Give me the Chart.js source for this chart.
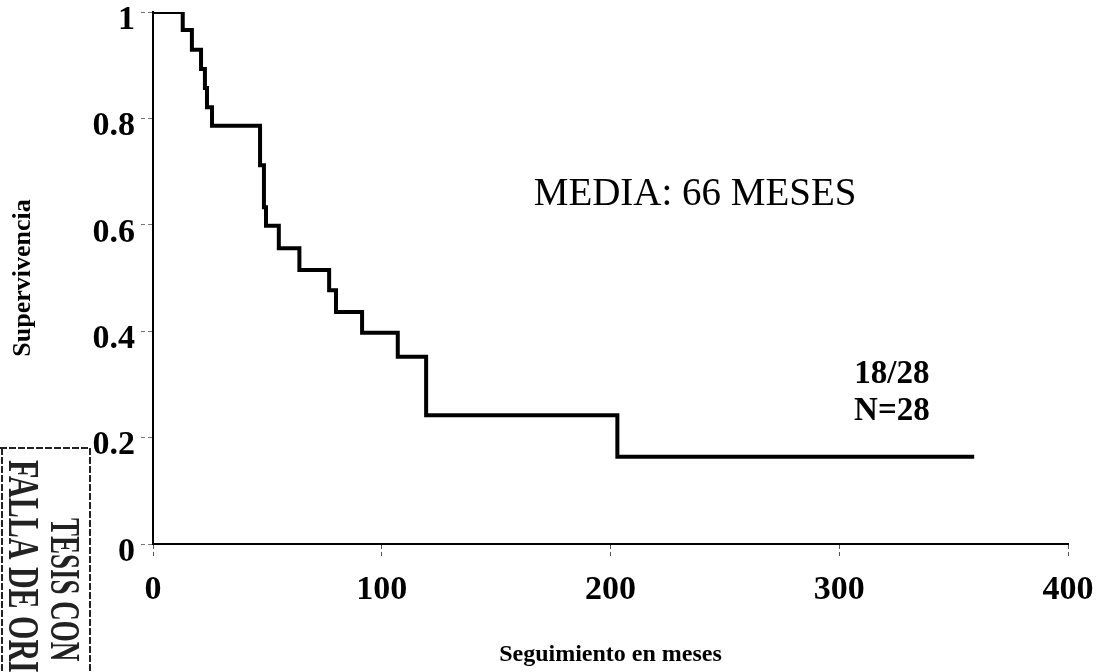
<!DOCTYPE html>
<html>
<head>
<meta charset="utf-8">
<script src="https://cdn.jsdelivr.net/npm/chart.js@4.4.1/dist/chart.umd.min.js"></script>
<style>
  html, body { margin: 0; padding: 0; background: #fff; }
  #wrap { width: 1097px; height: 672px; }
</style>
</head>
<body>
<div id="wrap"><canvas id="kmChart"></canvas></div>
<script>
// Kaplan-Meier, supervivencia global (N=28)
const months = [0, 13, 17, 21, 22.7, 23.6, 25.8, 46.8, 48.5, 49.4, 55, 64, 77, 80, 91.4, 107, 119.4, 203, 359];
const survival = [1, 0.966, 0.929, 0.893, 0.857, 0.821, 0.786, 0.712, 0.633, 0.598, 0.556, 0.515, 0.477, 0.436, 0.397, 0.352, 0.242, 0.164, 0.164];
const xTickLabels = ['0', '100', '200', '300', '400'];
const yTickLabels = ['0', '0.2', '0.4', '0.6', '0.8', '1'];
const notes = ['MEDIA: 66 MESES', '18/28', 'N=28'];
const stamp = ['TESIS CON', 'FALLA DE ORIGEN'];

const serif = '"Liberation Serif", "Times New Roman", serif';

// text notes on the plot + the scanned stamp bottom-left
const notesPlugin = {
  id: 'notes',
  afterDraw(chart) {
    const { ctx, scales: { x, y } } = chart;
    ctx.save();
    ctx.fillStyle = '#000';
    ctx.textAlign = 'center';
    ctx.textBaseline = 'middle';
    ctx.font = '39px ' + serif;
    ctx.fillText(notes[0], x.getPixelForValue(237), y.getPixelForValue(0.656));
    ctx.font = 'bold 33px ' + serif;
    ctx.fillText(notes[1], x.getPixelForValue(323), y.getPixelForValue(0.318));
    ctx.fillText(notes[2], x.getPixelForValue(323), y.getPixelForValue(0.25));

    // stamp box
    ctx.strokeStyle = '#222';
    ctx.lineWidth = 2;
    ctx.setLineDash([7, 2]);
    ctx.beginPath();
    ctx.moveTo(0, 448);
    ctx.lineTo(90, 448);
    ctx.lineTo(90, 672);
    ctx.moveTo(2, 448);
    ctx.lineTo(2, 672);
    ctx.stroke();
    ctx.setLineDash([]);

    ctx.textAlign = 'left';
    ctx.textBaseline = 'alphabetic';
    ctx.fillStyle = '#222';
    ctx.save();
    ctx.font = 'bold 27px ' + serif;
    ctx.translate(51, 518);
    ctx.rotate(Math.PI / 2);
    ctx.scale(1, 1.6);
    ctx.fillText(stamp[0], 0, 0);
    ctx.restore();
    ctx.save();
    ctx.font = 'bold 30px ' + serif;
    ctx.translate(9, 460);
    ctx.rotate(Math.PI / 2);
    ctx.scale(1, 1.45);
    ctx.fillText(stamp[1], 0, 0);
    ctx.restore();
    ctx.restore();
  }
};

new Chart(document.getElementById('kmChart').getContext('2d'), {
  type: 'line',
  data: {
    datasets: [{
      label: 'Supervivencia',
      data: months.map((m, i) => ({ x: m, y: survival[i] })),
      borderColor: '#000',
      borderWidth: 4,
      stepped: 'before',
      pointRadius: 0,
      fill: false
    }]
  },
  options: {
    responsive: true,
    maintainAspectRatio: false,
    animation: false,
    layout: { padding: { top: 12, right: 29, left: 0, bottom: 0 } },
    plugins: {
      legend: { display: false },
      tooltip: { enabled: false }
    },
    scales: {
      x: {
        type: 'linear',
        min: 0,
        max: 400,
        ticks: {
          stepSize: 100,
          color: '#000',
          padding: 12,
          maxRotation: 0,
          font: { family: serif, size: 34, weight: 'bold' },
          callback: (v, i) => xTickLabels[i]
        },
        grid: {
          drawOnChartArea: false,
          tickLength: 14,
          tickColor: '#555',
          tickWidth: 1,
          tickBorderDash: [4, 3]
        },
        border: { color: '#000', width: 2 },
        title: {
          display: true,
          text: 'Seguimiento en meses',
          color: '#000',
          font: { family: serif, size: 24, weight: 'bold' },
          padding: { top: 0, bottom: 3 }
        },
        afterFit(scale) {
          scale.height = 128;
          scale.paddingLeft = 0;
          scale.paddingRight = 0;
        }
      },
      y: {
        min: 0,
        max: 1,
        ticks: {
          stepSize: 0.2,
          color: '#000',
          padding: 6,
          labelOffset: 8,
          font: { family: serif, size: 34, weight: 'bold' },
          callback: (v, i) => yTickLabels[i]
        },
        grid: {
          drawOnChartArea: false,
          tickLength: 12,
          tickColor: '#777',
          tickWidth: 1,
          tickBorderDash: [4, 3]
        },
        border: { color: '#000', width: 2 },
        title: {
          display: true,
          text: 'Supervivencia',
          color: '#000',
          font: { family: serif, size: 26, weight: 'bold' },
          padding: { top: 8, bottom: 0 }
        },
        afterFit(scale) {
          scale.width = 153;
          scale.paddingTop = 0;
          scale.paddingBottom = 0;
        }
      }
    }
  },
  plugins: [notesPlugin]
});
</script>
</body>
</html>
